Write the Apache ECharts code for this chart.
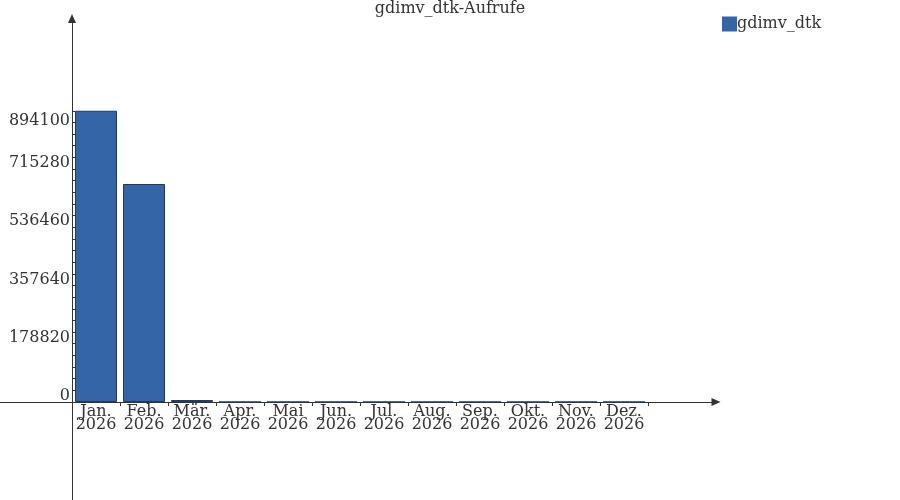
<!DOCTYPE html>
<html>
<head>
<meta charset="utf-8">
<script src="https://cdn.jsdelivr.net/npm/echarts@6/dist/echarts.min.js"></script>
<style>html,body{margin:0;padding:0;background:#fff}#c{width:900px;height:500px}</style>
</head>
<body>
<div id="c"></div>
<script>
var title = 'gdimv_dtk-Aufrufe';
var seriesName = 'gdimv_dtk';
var months = ['Jan.', 'Feb.', 'Mär.', 'Apr.', 'Mai', 'Jun.', 'Jul.', 'Aug.', 'Sep.', 'Okt.', 'Nov.', 'Dez.'];
var year = '2026';
var values = [894100, 669200, 6000, 0, 0, 0, 0, 0, 0, 0, 0, 0];
var yTickLabels = [0, 178820, 357640, 536460, 715280, 894100];

var FONT = 'DejaVu Serif';
var TXT = '#333333';
var yMax = yTickLabels[yTickLabels.length - 1];
var minorStep = (yTickLabels[1] - yTickLabels[0]) / 5;
var yTicks = [];
for (var v = 0; v <= yMax + 1; v += minorStep) yTicks.push(v);
var xLabelPos = months.map(function (m, i) { return i + 0.5; });
var xTickPos = months.map(function (m, i) { return i + 1; });
var barData = values.map(function (v, i) { return [i + 0.5, v]; });

var chart = echarts.init(document.getElementById('c'), null, { renderer: 'canvas' });
chart.setOption({
  animation: false,
  backgroundColor: '#ffffff',
  title: {
    text: title, left: 'center', top: -4,
    textStyle: { fontFamily: FONT, fontSize: 16, fontWeight: 'normal', color: TXT }
  },
  legend: {
    data: [seriesName], left: 717, top: 11, icon: 'rect', itemWidth: 15, itemHeight: 15,
    itemStyle: { borderWidth: 0 },
    textStyle: { fontFamily: FONT, fontSize: 16, color: TXT, padding: [0, 0, 0, -5] }
  },
  grid: { left: 0, right: 184, top: 18.5, bottom: 0, containLabel: false, outerBoundsMode: 'none' },
  xAxis: {
    type: 'value', min: -1.5, max: 13.4167,
    axisLine: { show: true, onZero: true, lineStyle: { color: '#333', width: 1 },
      symbol: ['none', 'triangle'], symbolSize: [8, 9] },
    axisTick: { show: true, customValues: xTickPos, length: 4, lineStyle: { color: '#333' } },
    axisLabel: {
      customValues: xLabelPos, fontFamily: FONT, fontSize: 16, color: TXT, margin: -95, lineHeight: 13,
      formatter: function (val) { var i = Math.round(val - 0.5); return months[i] + '\n' + year; }
    },
    splitLine: { show: false }
  },
  yAxis: [{
    type: 'value', min: -300850, max: 1177300,
    axisLine: { show: true, onZero: true, lineStyle: { color: '#333', width: 1 },
      symbol: ['none', 'triangle'], symbolSize: [8, 9] },
    axisTick: { show: true, inside: true, customValues: yTicks, length: 3, lineStyle: { color: '#333' } },
    axisLabel: {
      customValues: yTickLabels.slice(0, -1), fontFamily: FONT, fontSize: 16, color: TXT,
      margin: -70, verticalAlign: 'bottom', lineHeight: 12, formatter: function (v) { return String(v); }
    },
    splitLine: { show: false }
  }, {
    type: 'value', min: -300850, max: 1177300, position: 'left',
    axisLine: { show: false, onZero: true },
    axisTick: { show: false },
    axisLabel: {
      customValues: [yMax], fontFamily: FONT, fontSize: 16, color: TXT,
      margin: -70, verticalAlign: 'top', lineHeight: 20, formatter: function (v) { return String(v); }
    },
    splitLine: { show: false }
  }],
  series: [{
    name: seriesName, type: 'bar', data: barData, barWidth: 42,
    itemStyle: { color: '#3465a4', borderColor: '#1f3a5f', borderWidth: 1 }
  }]
});
</script>
</body>
</html>
